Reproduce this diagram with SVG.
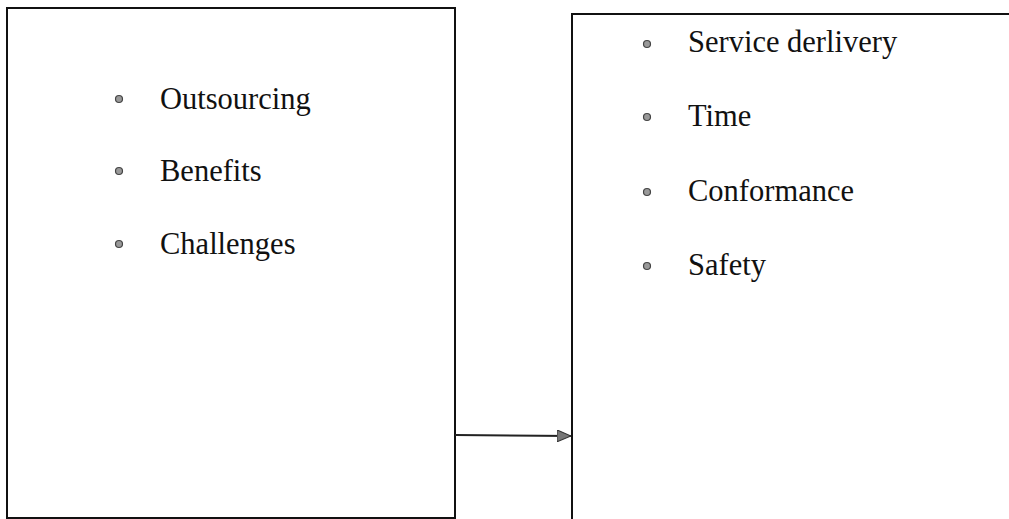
<svg xmlns="http://www.w3.org/2000/svg" width="1009" height="519" viewBox="0 0 1009 519">
<style>
.box{fill:none;stroke:#111;stroke-width:2}
.t{font-family:"Liberation Serif","Times New Roman",serif;font-size:30.5px;fill:#111}
.b{fill:#999;stroke:#444;stroke-width:1.2}
.c{stroke:#222;stroke-width:2;fill:none}
</style>
<defs>
<marker id="ah" markerWidth="14" markerHeight="12" refX="14" refY="6" orient="auto" markerUnits="userSpaceOnUse">
<path d="M0,0 L14,6 L0,12 Z" fill="#777" stroke="#333" stroke-width="1"/>
</marker>
</defs>
<g id="left">
<rect class="box" x="7" y="8" width="448" height="510"/>
<circle class="b" cx="119" cy="99" r="3.5"/>
<text class="t" x="160" y="109">Outsourcing</text>
<circle class="b" cx="119" cy="171" r="3.5"/>
<text class="t" x="160" y="181">Benefits</text>
<circle class="b" cx="119" cy="244" r="3.5"/>
<text class="t" x="160" y="254">Challenges</text>
</g>
<g id="right">
<path class="box" d="M1010,14 L572,14 L572,520"/>
<circle class="b" cx="647" cy="44" r="3.5"/>
<text class="t" x="688" y="52">Service derlivery</text>
<circle class="b" cx="647" cy="117" r="3.5"/>
<text class="t" x="688" y="126">Time</text>
<circle class="b" cx="647" cy="192" r="3.5"/>
<text class="t" x="688" y="201">Conformance</text>
<circle class="b" cx="647" cy="266" r="3.5"/>
<text class="t" x="688" y="275">Safety</text>
</g>
<g id="connectors">
<line class="c" x1="455" y1="435" x2="571" y2="436" marker-end="url(#ah)"/>
</g>
</svg>
